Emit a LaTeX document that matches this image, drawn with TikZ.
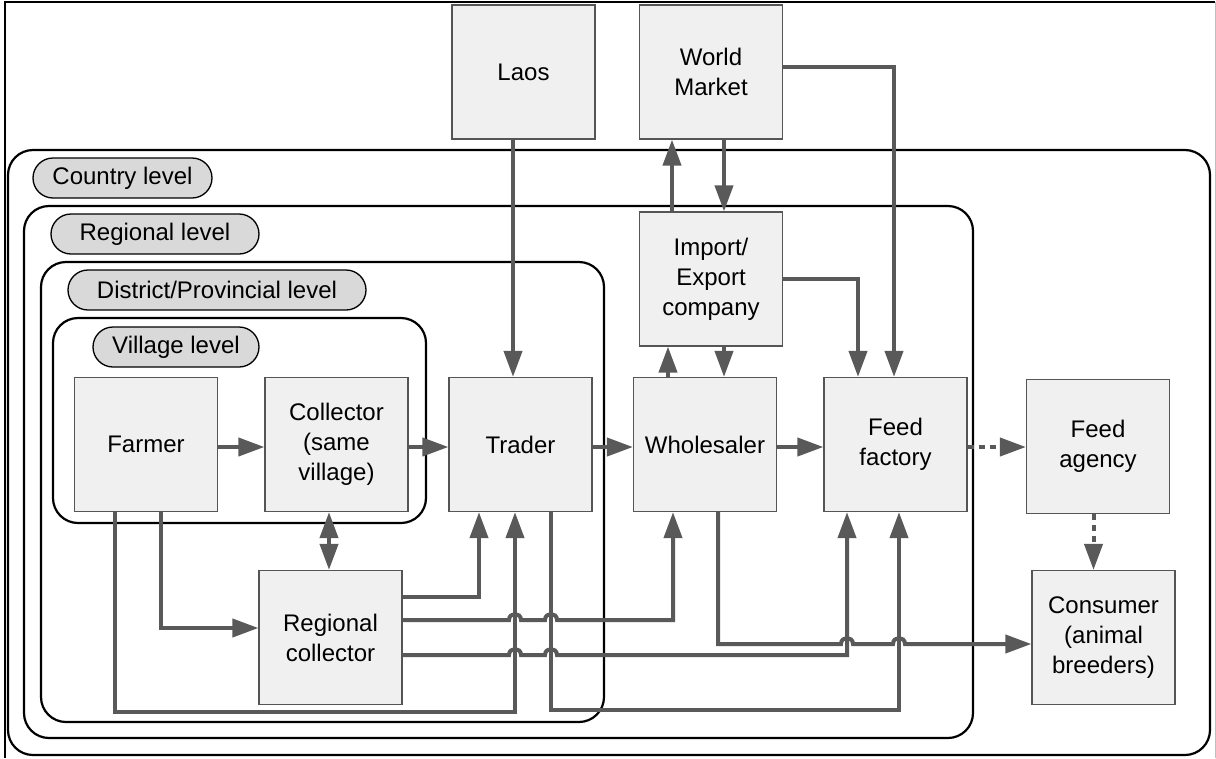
\documentclass[tikz,border=0pt]{standalone}
\usepackage{fontspec}
\setmainfont{Liberation Sans}
\usetikzlibrary{arrows.meta}
\definecolor{ln}{HTML}{595959}
\definecolor{boxfill}{HTML}{F0F0F0}
\definecolor{pillfill}{HTML}{D9D9D9}
\definecolor{boxline}{HTML}{555555}
\begin{document}
\begin{tikzpicture}[x=1pt,y=-1pt,
  font=\fontsize{24}{30}\selectfont,
  box/.style={draw=boxline, line width=1.2pt, fill=boxfill, minimum width=143pt, minimum height=134pt, align=center, inner sep=0pt},
  cont/.style={draw=black, line width=2.2pt, rounded corners=25pt},
  pill/.style={draw=black, line width=1.3pt, fill=pillfill, rounded corners=20pt, minimum height=40pt, inner sep=0pt},
  arr/.style={draw=ln, line width=4pt, -{Triangle[length=26pt,width=18pt]}},
  darr/.style={draw=ln, line width=4pt, {Triangle[length=26pt,width=18pt]}-{Triangle[length=26pt,width=18pt]}},
  dasharr/.style={arr, dash pattern=on 6pt off 5pt}
]
\useasboundingbox (0,0) rectangle (1216,758);
% outer frame
\draw[black, line width=2pt] (5,758) -- (5,1.5) -- (1215,1.5);
\draw[black!25, line width=1pt] (1215,1.5) -- (1215,758);
% containers
\draw[cont] (8,150) rectangle (1210,755);
\draw[cont] (24,206) rectangle (973,738);
\draw[cont] (41,262) rectangle (604,722);
\draw[cont] (53,318) rectangle (426,523);
% level labels
\node[pill, minimum width=179pt] (lcountry) at (122.5,178) {Country level};
\node[pill, minimum width=208pt] (lregional) at (155,234) {Regional level};
\node[pill, minimum width=298pt] (ldistrict) at (217,290) {District/Provincial level};
\node[pill, minimum width=166pt] (lvillage) at (176,347) {Village level};
% boxes
\node[box] (laos) at (523.5,72) {Laos};
\node[box] (wm) at (711,72) {World\\Market};
\node[box] (ie) at (711,279) {Import/\\Export\\company};
\node[box] (farmer) at (146,444.5) {Farmer};
\node[box] (coll) at (336.5,444.5) {Collector\\(same\\village)};
\node[box] (trader) at (520.5,444.5) {Trader};
\node[box] (whole) at (705,444.5) {Wholesaler};
\node[box] (ff) at (895.5,444.5) {Feed\\factory};
\node[box] (fa) at (1098,446.5) {Feed\\agency};
\node[box] (rc) at (330.5,637.5) {Regional\\collector};
\node[box] (cons) at (1103.5,637.5) {Consumer\\(animal\\breeders)};
% connectors
\draw[arr] (laos.south -| 513,0) -- (trader.north -| 513,0);
\draw[arr] (wm.south -| 724,0) -- (ie.north -| 724,0);
\draw[arr] (ie.north -| 672,0) -- (wm.south -| 672,0);
\draw[arr] (wm.east |- 0,67) -| (ff.north -| 894,0);
\draw[arr] (ie.east |- 0,279) -| (ff.north -| 858,0);
\draw[arr] (ie.south -| 724,0) -- (whole.north -| 724,0);
\draw[arr] (whole.north -| 668,0) -- (ie.south -| 668,0);
\draw[arr] (farmer.east |- 0,447) -- (coll.west |- 0,447);
\draw[arr] (coll.east |- 0,447) -- (trader.west |- 0,447);
\draw[arr] (trader.east |- 0,447) -- (whole.west |- 0,447);
\draw[arr] (whole.east |- 0,447) -- (ff.west |- 0,447);
\draw[dasharr] (ff.east |- 0,447) -- (fa.west |- 0,447);
\draw[dasharr] (fa.south -| 1093.5,0) -- (cons.north -| 1093.5,0);
\draw[darr] (coll.south -| 329,0) -- (rc.north -| 329,0);
\draw[arr] (farmer.south -| 115,0) -- (115,712) -| (trader.south -| 515,0);
\draw[arr] (farmer.south -| 161,0) |- (rc.west |- 0,628);
\draw[arr] (rc.east |- 0,597) -| (trader.south -| 479,0);
\draw[arr] (rc.east |- 0,620) -- (509,620) .. controls (509,612) and (521,612) .. (521,620)
  -- (545,620) .. controls (545,612) and (557,612) .. (557,620)
  -- (673,620) -- (whole.south -| 673,0);
\draw[arr] (rc.east |- 0,655) -- (509,655) .. controls (509,647) and (521,647) .. (521,655)
  -- (545,655) .. controls (545,647) and (557,647) .. (557,655)
  -- (847,655) -- (ff.south -| 847,0);
\draw[arr] (trader.south -| 551,0) -- (551,710) -| (ff.south -| 899,0);
\draw[arr] (whole.south -| 718,0) -- (718,644) -- (841,644) .. controls (841,636) and (853,636) .. (853,644)
  -- (893,644) .. controls (893,636) and (905,636) .. (905,644)
  -- (cons.west |- 0,644);
\end{tikzpicture}
\end{document}
